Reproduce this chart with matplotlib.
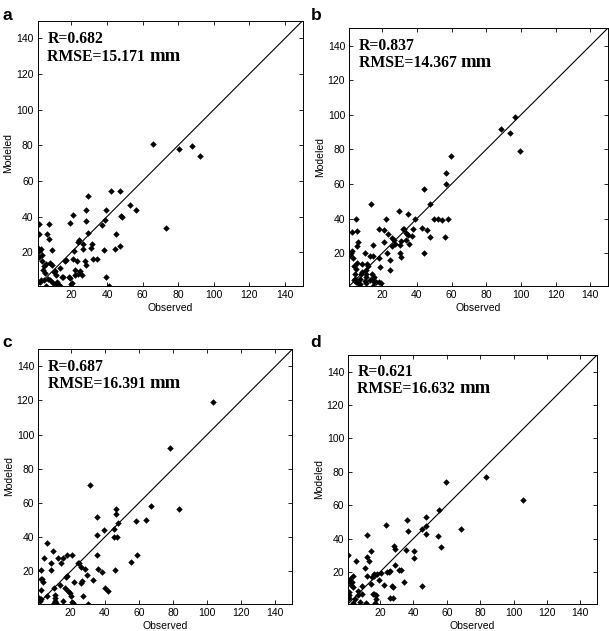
import matplotlib
matplotlib.use("Agg")
import matplotlib.pyplot as plt
import numpy as np

# panel a
obs_a = [66, 80.5, 88, 92.3, 73.4, 29.4, 42.1, 47.5, 53, 56.1, 20.7, 28.1, 39.3, 47.9, 48.3,
         19.4, 28.1, 38.7, 37.2, 1.5, 7.3, 1.5, 6.4, 7.3, 29.4, 24.3, 23.4, 26.2, 31.6, 30.9,
         45, 38.2, 44.4, 47, 8.8, 1.5, 2.6, 21.5, 26.2, 20.7, 23.2, 27.7, 32.2, 34.1, 16.6,
         27.9, 13.8, 3.7, 5.4, 7.8, 8.8, 4.0, 5.0, 10.5, 21.7, 24.7, 23.6, 25.7, 19, 15.1,
         14.5, 39.5, 2.9, 4.5, 6.7, 7.7, 2.2, 5.4, 9.5, 10.8, 11.6, 13.4, 19.8, 41, 17,
         21.9, 18.5, 20.4, 10.2, 11.1, 11.9, 12.8, 2.0, 1.2, 3.4, 4.8]
mod_a = [81, 78, 79.4, 74.1, 33.6, 51.4, 54.1, 54.1, 46.2, 43.4, 41.1, 43.4, 43.4, 40.5, 39.6,
         36.4, 37.7, 38.3, 35.1, 35.6, 35.6, 30.4, 30, 27.2, 30.7, 26.8, 25.6, 24.7, 24.7, 22.4,
         30.4, 21.1, 21.5, 23.6, 21.1, 20.5, 21.5, 20.4, 21.7, 15.9, 15.3, 15.3, 16, 16.4, 15.3,
         12.5, 11, 15.3, 13.4, 14, 12.7, 10, 8.5, 9.6, 10, 9.3, 7.8, 7.4, 5.5, 5.9,
         6.3, 5.9, 4.6, 4.6, 5.1, 4.6, 3.2, 0.8, 2.7, 0.8, 1.7, 0.8, 2.1, 1, 15.6,
         7.3, 5.8, 2.6, 8.8, 7, 3.2, 1.5, 17.5, 22.5, 18.2, 12]

# panel b
obs_b = [96.6, 88.4, 93.6, 99.5, 59.8, 57, 56.6, 56.4, 57.7, 54.5, 52.2, 49.7, 47.5, 44, 38.6,
         29.4, 34.8, 13.7, 22.3, 4.7, 5.6, 2.6, 5.8, 5.4, 2.5, 2.1, 1.6, 9.8, 17.9, 20.8,
         21.1, 23.2, 25.7, 26.5, 27.1, 31.7, 37.6, 33.4, 34.8, 37.4, 42.8, 45.9, 47.6, 43.8, 33.8,
         30.9, 30, 30.5, 30.7, 35.3, 25.4, 23, 24.6, 24.4, 18.5, 18.1, 14.6, 13.1, 14.4, 11,
         11.8, 10.6, 8.1, 8.1, 3.1, 3.9, 4.7, 4.1, 5.6, 7.9, 10.4, 10.4, 14.1, 15, 4.5,
         5, 3.6, 7, 14.4, 15.2, 16.6, 18.1, 19.4, 14.4, 6.2, 7, 9.8, 10.4, 13.1, 32.5]
mod_b = [98.6, 91.5, 89.4, 78.8, 76.1, 66.2, 59.7, 29.2, 39.7, 39.3, 39.5, 39.7, 48.5, 57.2, 39.7,
         44.1, 42.5, 48.5, 39.5, 39.5, 32.5, 32.1, 26.2, 24, 21, 20, 19, 20.2, 34.1, 33.5,
         26.2, 30.8, 28.9, 27.5, 25.5, 33.9, 33.9, 31.8, 30.5, 30, 34.3, 33.1, 29.6, 20.2, 27.3,
         26.9, 24.4, 20.2, 17.5, 25.2, 24.2, 19.8, 15.8, 10.4, 11.9, 17.1, 18.1, 18.1, 24.8, 13.8,
         12.5, 10.4, 13.8, 9, 17.3, 12.3, 10.8, 7.7, 14.2, 7.7, 7.7, 6.1, 8, 6.1, 5.2,
         3.2, 4.2, 5, 5.4, 3.4, 3.2, 3.2, 2.7, 1.1, 2.7, 2, 3.6, 3, 4.6, 34]

# panel c
obs_c = [103.6, 78, 83.5, 66.9, 64.3, 58.1, 59.1, 55.2, 31.3, 46.4, 46.4, 47.7, 45.4, 39.5, 35.2,
         35.2, 45.4, 47, 45.8, 35.6, 36, 38.2, 32.9, 29.8, 28.4, 24.7, 25.9, 18, 20.6, 15.5,
         12.4, 14.5, 9.6, 6.3, 4.4, 8.3, 8.3, 2.4, 2.4, 3.4, 4, 13.9, 10.2, 2.7, 17.7,
         16.7, 18.4, 19.4, 20, 22, 26.6, 27.4, 40.3, 41.9, 30.4, 21, 21.6, 15.7, 10.6, 10.8,
         10.8, 11.2, 10.2, 6.3, 1.4, 2.4, 1.8, 24.1, 17.2, 26.2]
mod_c = [119.4, 92.4, 56.7, 58, 50, 49.6, 29.8, 25.3, 70.4, 56.7, 53.5, 48, 44.5, 43.9, 52,
         41, 40, 40, 21, 29.8, 21.6, 19.4, 15.1, 17.8, 21.4, 24.9, 22.4, 29.8, 29.8, 27.6,
         27.8, 24.9, 32, 36.5, 27.5, 24.9, 21, 21, 15.5, 15.5, 13.5, 12.2, 10.2, 9, 17.5,
         10.2, 8.4, 7.3, 5.3, 13.5, 14.3, 5.7, 10.2, 8.2, 1, 2.2, 1.4, 2.7, 6.1, 4.3,
         2.7, 1.4, 1.4, 5.5, 4.3, 3.7, 2.4, 24.9, 16.8, 13.2]

# panel d
obs_d = [105.7, 83.4, 59.4, 55.4, 68.7, 54.8, 56.4, 47.6, 47.8, 45.2, 47.8, 35.9, 36.9, 23.6, 12.2,
         14.4, 12.2, 13.6, 5.5, 1.1, 28.3, 28.7, 35.5, 40.3, 40.3, 28.7, 31.5, 32.5, 34.5, 44.9,
         24, 25.4, 26.2, 20.8, 16.6, 16.2, 15.4, 12.2, 11.1, 19.4, 22.2, 14.6, 27, 28, 26.2,
         27.6, 15.6, 16.6, 17.6, 17.6, 17.2, 11.6, 9.3, 9.1, 8.3, 6.7, 6.7, 5.1, 3.3, 3.7,
         2.1, 1.9, 1.3, 1.7, 3.7, 4.1, 2.7, 18.5, 1.5]
mod_d = [63.1, 76.7, 73.7, 57, 45.6, 41.3, 35.1, 53, 47.8, 46, 42.7, 51.2, 44.3, 48.2, 41.9,
         32.5, 28.7, 26.4, 26.6, 30.3, 35.3, 33.5, 33.3, 32.3, 28.2, 24.2, 21.2, 21.4, 13.8, 11.3,
         20.2, 20.2, 20.6, 19.2, 19, 17.4, 17, 17.4, 22.4, 15.2, 12.2, 12.8, 11.3, 10.7, 4.7,
         4.5, 6.7, 6.7, 6.3, 4.1, 1.7, 1.3, 11.8, 6.7, 2.1, 8.5, 6.1, 4.1, 13.8, 10.7,
         15.8, 13.8, 7.7, 4.7, 1.7, 17.4, 12.2, 18.5, 6]

panels = [
    ("a", obs_a, mod_a, "R=0.682", "RMSE=15.171", [0.0619, 0.5468, 0.4351, 0.4205], (0.004, 0.975)),
    ("b", obs_b, mod_b, "R=0.837", "RMSE=14.367", [0.5736, 0.5468, 0.4243, 0.4084], (0.51, 0.975)),
    ("c", obs_c, mod_c, "R=0.687", "RMSE=16.391", [0.0629, 0.0433, 0.4171, 0.4032], (0.004, 0.458)),
    ("d", obs_d, mod_d, "R=0.621", "RMSE=16.632", [0.5719, 0.0433, 0.4084, 0.3941], (0.51, 0.458)),
]

ticks = [20, 40, 60, 80, 100, 120, 140]

fig = plt.figure(figsize=(6.09, 6.31), dpi=100)

for letter, obs, mod, r_txt, rmse_txt, pos, lpos in panels:
    ax = fig.add_axes(pos)
    ax.plot([0, 150], [0, 150], color="black", lw=0.8)
    ax.scatter(obs, mod, marker="D", s=11, color="black", linewidths=0)
    ax.set_xlim(1, 150)
    ax.set_ylim(1, 150)
    ax.set_xticks(ticks)
    ax.set_yticks(ticks)
    ax.tick_params(direction="in", top=True, right=True, length=3, width=0.6,
                   labelsize=7.5, pad=3)
    for lab in ax.get_xticklabels() + ax.get_yticklabels():
        lab.set_fontfamily("Liberation Sans")
    for sp in ax.spines.values():
        sp.set_linewidth(0.7)
    ax.set_xlabel("Observed", fontsize=7.5, family="Liberation Sans", labelpad=2)
    ax.set_ylabel("Modeled", fontsize=7.5, family="Liberation Sans", labelpad=2)
    ax.text(6.5, 137.5, r_txt, fontsize=11.3, family="Liberation Serif",
            fontweight="bold", va="baseline")
    t = ax.text(6.5, 127.5, rmse_txt + " ", fontsize=11.3, family="Liberation Serif",
                fontweight="bold", va="baseline")
    ax.annotate("mm", xycoords=t, xy=(1, 0), va="bottom", fontsize=13.5,
                family="Liberation Serif", fontweight="bold")
    fig.text(lpos[0], lpos[1], letter, fontsize=12.5, fontweight="bold",
             family="Liberation Sans", va="center")

fig.savefig("out.png", dpi=100)
